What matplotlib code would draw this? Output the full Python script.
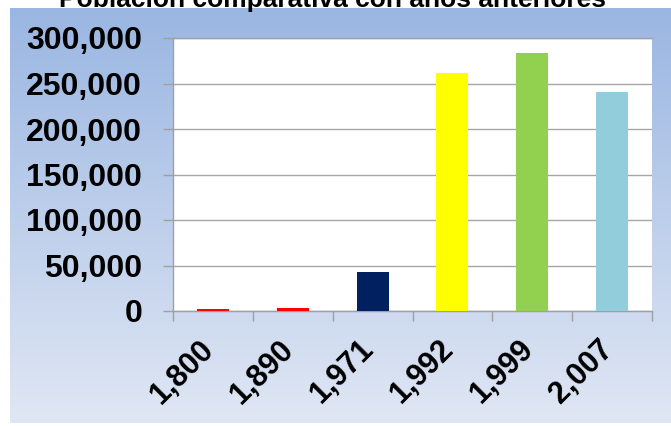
import numpy as np
import matplotlib
matplotlib.use("Agg")
import matplotlib.pyplot as plt
from matplotlib.ticker import FixedLocator, FuncFormatter
from matplotlib.transforms import ScaledTranslation

title = "Población comparativa con años anteriores"
years = ['1,800', '1,890', '1,971', '1,992', '1,999', '2,007']
population = [2000, 3500, 43000, 261000, 283000, 241000]
bar_colors = ['#ff0000', '#ff0000', '#002060', '#ffff00', '#92d050', '#92cddc']
y_ticks = [0, 50000, 100000, 150000, 200000, 250000, 300000]

plt.rcParams['font.family'] = ['Liberation Sans', 'DejaVu Sans']
plt.rcParams['font.weight'] = 'bold'

W, H = 671, 426
fig = plt.figure(figsize=(W / 100, H / 100), dpi=100, facecolor='white')

# gradient background panel
bg = fig.add_axes([10 / W, 1 - 423 / H, (W - 10) / W, (423 - 8) / H], zorder=0)
top_c = np.array([154, 182, 226]) / 255
bot_c = np.array([224, 231, 244]) / 255
t = np.linspace(0, 1, 256)[:, None, None]
grad = top_c * (1 - t) + bot_c * t
grad = np.repeat(grad, 2, axis=1)
bg.imshow(grad, aspect='auto', extent=[0, 1, 0, 1], interpolation='bilinear')
bg.set_axis_off()

ax = fig.add_axes([173 / W, 1 - 311 / H, (652 - 173) / W, (311 - 38) / H], zorder=1)
ax.set_facecolor('white')
x = np.arange(len(years))
ax.bar(x, population, width=0.4, color=bar_colors, zorder=3)
ax.set_xlim(-0.5, len(years) - 0.5)
ax.set_ylim(0, 300000)
ax.set_yticks(y_ticks)
ax.yaxis.set_major_formatter(FuncFormatter(lambda v, p: f"{int(v):,}"))
ax.yaxis.grid(True, color='#a6a6a6', lw=1.0, zorder=0)
ax.set_axisbelow(True)

grey = '#a0a0a0'
for s in ['left', 'bottom', 'top']:
    ax.spines[s].set_color(grey)
    ax.spines[s].set_linewidth(1.0)
ax.spines['right'].set_visible(False)

ax.tick_params(axis='y', length=7.2, width=1.0, color=grey, pad=15, labelsize=23)
ax.set_xticks(x)
ax.set_xticklabels(years, rotation=45, ha='right', va='top')
ax.tick_params(axis='x', which='major', length=0, pad=17, labelsize=22)
ax.xaxis.set_minor_locator(FixedLocator(np.arange(-0.5, len(years), 1.0)))
ax.tick_params(axis='x', which='minor', length=7.2, width=1.0, color=grey)
offset = ScaledTranslation(7 / 100, 0, fig.dpi_scale_trans)
for lbl in ax.get_xticklabels():
    lbl.set_fontweight('bold')
    lbl.set_transform(lbl.get_transform() + offset)
for lbl in ax.get_yticklabels():
    lbl.set_fontweight('bold')

fig.text(332.5 / W, 1 - 7 / H, title, ha='center', va='baseline',
         fontsize=19, fontweight='bold', zorder=5)

fig.savefig('out.png', dpi=100, facecolor='white')
